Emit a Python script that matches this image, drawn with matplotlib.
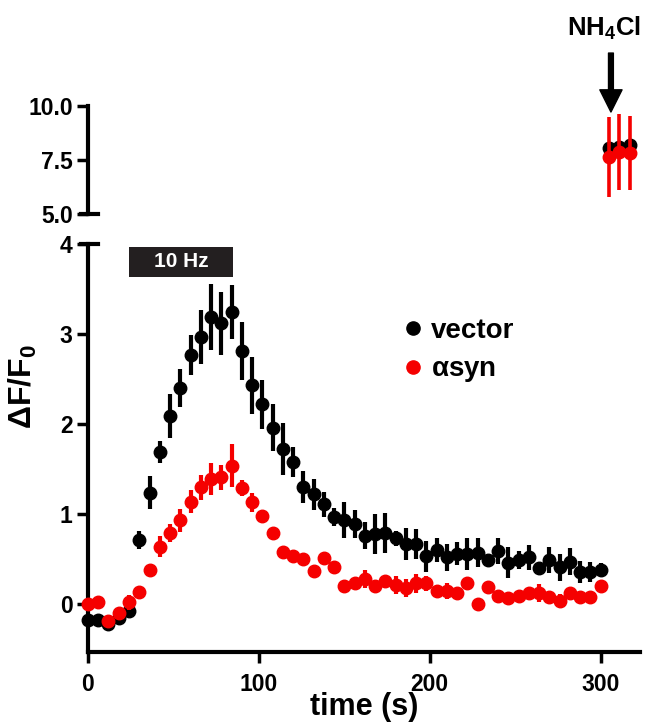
import matplotlib
matplotlib.use("Agg")
from matplotlib import pyplot as plt
from matplotlib.patches import Rectangle

plt.rcParams['font.family'] = ['Liberation Sans', 'DejaVu Sans']
plt.rcParams['font.weight'] = 'bold'
plt.rcParams['mathtext.fontset'] = 'custom'
plt.rcParams['mathtext.rm'] = 'Liberation Sans:bold'
plt.rcParams['mathtext.bf'] = 'Liberation Sans:bold'
plt.rcParams['mathtext.it'] = 'Liberation Sans:bold'

# time points (s)
time = [0, 6, 12, 18, 24, 30, 36, 42, 48, 54, 60, 66, 72, 78, 84, 90, 96, 102,
        108, 114, 120, 126, 132, 138, 144, 150, 156, 162, 168, 174, 180, 186,
        192, 198, 204, 210, 216, 222, 228, 234, 240, 246, 252, 258, 264, 270,
        276, 282, 288, 294, 300]

vector_mean = [-0.18, -0.18, -0.22, -0.15, -0.07, 0.71, 1.24, 1.69, 2.09, 2.40,
               2.77, 2.97, 3.19, 3.12, 3.24, 2.81, 2.43, 2.22, 1.96, 1.72,
               1.58, 1.30, 1.22, 1.11, 0.97, 0.93, 0.89, 0.76, 0.78, 0.79,
               0.73, 0.67, 0.67, 0.53, 0.60, 0.52, 0.56, 0.56, 0.57, 0.49,
               0.59, 0.46, 0.49, 0.52, 0.40, 0.49, 0.41, 0.47, 0.36, 0.36, 0.38]
vector_err = [0.03, 0.03, 0.03, 0.03, 0.04, 0.10, 0.18, 0.12, 0.24, 0.21,
              0.22, 0.30, 0.37, 0.35, 0.30, 0.32, 0.32, 0.27, 0.26, 0.29,
              0.17, 0.18, 0.17, 0.14, 0.10, 0.20, 0.16, 0.15, 0.22, 0.22,
              0.08, 0.18, 0.17, 0.17, 0.13, 0.15, 0.13, 0.18, 0.16, 0.03,
              0.14, 0.17, 0.10, 0.14, 0.07, 0.14, 0.15, 0.15, 0.12, 0.11, 0.08]

asyn_mean = [0.00, 0.02, -0.19, -0.10, 0.02, 0.14, 0.38, 0.64, 0.79, 0.93,
             1.14, 1.30, 1.39, 1.41, 1.54, 1.29, 1.13, 0.98, 0.79, 0.58,
             0.53, 0.50, 0.37, 0.51, 0.41, 0.20, 0.23, 0.28, 0.20, 0.26,
             0.21, 0.18, 0.23, 0.23, 0.15, 0.15, 0.13, 0.23, 0.00, 0.19,
             0.09, 0.07, 0.09, 0.12, 0.12, 0.08, 0.04, 0.13, 0.08, 0.08, 0.20]
asyn_err = [0.03, 0.03, 0.06, 0.05, 0.08, 0.03, 0.03, 0.12, 0.10, 0.13,
            0.13, 0.14, 0.18, 0.14, 0.24, 0.09, 0.11, 0.04, 0.03, 0.03,
            0.03, 0.03, 0.03, 0.03, 0.07, 0.03, 0.06, 0.10, 0.03, 0.03,
            0.10, 0.10, 0.10, 0.08, 0.03, 0.09, 0.03, 0.03, 0.03, 0.07,
            0.03, 0.03, 0.03, 0.03, 0.10, 0.06, 0.07, 0.03, 0.03, 0.03, 0.03]

# NH4Cl application
nh4_time = [305, 311, 317]
nh4_vector = [8.05, 8.10, 8.20]
nh4_vector_err = [0.05, 0.05, 0.05]
nh4_asyn = [7.66, 7.85, 7.82]
nh4_asyn_err = [1.85, 1.76, 1.72]

stim_start, stim_end = 24, 85

black = '#000000'
red = '#f50000'

fig = plt.figure(figsize=(6.46, 7.26), dpi=100)
ax = fig.add_axes([0.1362, 0.102, 0.8545, 0.562])
ax_top = fig.add_axes([0.1362, 0.7052, 0.8545, 0.1488])

kw = dict(fmt='o', markersize=9, elinewidth=3, capsize=0, clip_on=False)
ax.errorbar(time, vector_mean, yerr=vector_err, color=black, zorder=3, **kw)
ax.errorbar(time, asyn_mean, yerr=asyn_err, color=red, zorder=4, **kw)
ax_top.errorbar(nh4_time, nh4_vector, yerr=nh4_vector_err, color=black, zorder=3, **kw)
ax_top.errorbar(nh4_time, nh4_asyn, yerr=nh4_asyn_err, color=red, zorder=4,
                fmt='o', markersize=9, elinewidth=2.6, capsize=0, clip_on=False)

xmax = 323
for a in (ax, ax_top):
    a.set_xlim(0, xmax)
    for s in ('top', 'right'):
        a.spines[s].set_visible(False)
    a.spines['left'].set_linewidth(3)
    a.spines['bottom'].set_linewidth(3)
    a.tick_params(width=2.5, length=8, labelsize=16.5, pad=3)

ax.tick_params(axis='x', pad=7)
ax.set_ylim(-0.53, 4)
ax.set_yticks([0, 1, 2, 3, 4])
ax.set_yticklabels(['0', '1', '2', '3', '4'])
ax.set_xticks([0, 100, 200, 300])
ax.spines['left'].set_bounds(-0.53, 4)

ax_top.set_ylim(5, 10)
ax_top.set_yticks([5.0, 7.5, 10.0])
ax_top.set_yticklabels(['5.0', '7.5', '10.0'])
ax_top.spines['bottom'].set_visible(False)
ax_top.set_xticks([])

# break caps
ax_top.plot([-0.012, 0.018], [5, 5], color=black, lw=3,
            transform=ax_top.get_yaxis_transform(), clip_on=False)
ax.plot([-0.012, 0.018], [4, 4], color=black, lw=3,
        transform=ax.get_yaxis_transform(), clip_on=False)

ax.set_xlabel('time (s)', fontsize=22, fontweight='bold')
ax.xaxis.set_label_coords(0.5, -0.098)
ax.set_ylabel(r'$\Delta$F/F$_0$', fontsize=23, fontweight='bold')
ax.yaxis.set_label_coords(-0.088, 0.65)

# stimulation bar
ax.add_patch(Rectangle((stim_start, 3.63), stim_end - stim_start, 0.34,
                       facecolor='#231f20', edgecolor='none', zorder=5))
ax.text((stim_start + stim_end) / 2, 3.80, '10 Hz', color='white',
        fontsize=15, fontweight='bold', ha='center', va='center', zorder=6)

# legend
h1, = ax.plot([], [], 'o', color=black, markersize=9.5)
h2, = ax.plot([], [], 'o', color=red, markersize=9.5)
ax.legend([h1, h2], ['vector', r'$\alpha$syn'], loc='center left',
          bbox_to_anchor=(0.528, 0.737), frameon=False,
          handlelength=0.6, handletextpad=0.35, labelspacing=0.45,
          prop={'weight': 'bold', 'size': 20})

# NH4Cl arrow and label
ax_top.annotate('', xy=(306, 9.72), xytext=(306, 12.45),
                arrowprops=dict(facecolor=black, edgecolor=black, width=3.5,
                                headwidth=16, headlength=16),
                annotation_clip=False)
ax_top.text(302, 13.6, r'NH$_4$Cl', fontsize=18.5, fontweight='bold',
            ha='center', va='center')

fig.savefig('out.png', dpi=100)
